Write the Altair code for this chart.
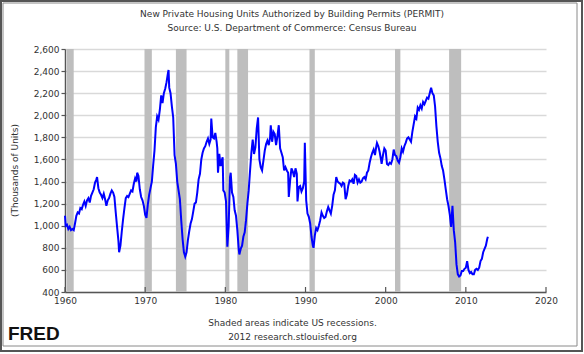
import altair as alt
import pandas as pd

# ---- data (thousands of units, SAAR) ----
dates = [
 "1960-01","1960-02","1960-04","1960-06","1960-08","1960-10","1960-12",
 "1961-02","1961-04","1961-06","1961-08","1961-10","1961-12",
 "1962-02","1962-04","1962-06","1962-08","1962-10","1962-12",
 "1963-02","1963-04","1963-06","1963-08","1963-10","1963-12",
 "1964-01","1964-03","1964-05","1964-07","1964-09","1964-11",
 "1965-01","1965-03","1965-05","1965-07","1965-09","1965-11",
 "1966-01","1966-03","1966-05","1966-07","1966-09","1966-10","1966-12",
 "1967-02","1967-04","1967-06","1967-08","1967-10","1967-12",
 "1968-02","1968-04","1968-06","1968-08","1968-10","1968-12",
 "1969-01","1969-03","1969-05","1969-07","1969-09","1969-11",
 "1970-01","1970-03","1970-05","1970-07","1970-09","1970-11",
 "1971-01","1971-03","1971-05","1971-07","1971-09","1971-11",
 "1972-01","1972-03","1972-05","1972-07","1972-09","1972-11","1972-12",
 "1973-01","1973-03","1973-05","1973-07","1973-09","1973-11",
 "1974-01","1974-03","1974-05","1974-07","1974-09","1974-11",
 "1975-01","1975-03","1975-05","1975-07","1975-09","1975-11",
 "1976-01","1976-03","1976-05","1976-07","1976-09","1976-11",
 "1977-01","1977-03","1977-05","1977-07","1977-09","1977-11",
 "1978-01","1978-03","1978-04","1978-06","1978-08","1978-10","1978-12",
 "1979-01","1979-02","1979-04","1979-06","1979-08","1979-09","1979-10","1979-12",
 "1980-02","1980-04","1980-06","1980-08","1980-09","1980-11",
 "1981-01","1981-03","1981-05","1981-07","1981-09","1981-10","1981-12",
 "1982-02","1982-04","1982-06","1982-08","1982-10","1982-12",
 "1983-02","1983-04","1983-06","1983-08","1983-10","1983-12",
 "1984-02","1984-04","1984-06","1984-08","1984-10","1984-12",
 "1985-02","1985-04","1985-06","1985-08","1985-09","1985-11",
 "1986-01","1986-03","1986-05","1986-07","1986-09","1986-11",
 "1987-01","1987-03","1987-05","1987-07","1987-09","1987-11","1987-12",
 "1988-02","1988-04","1988-06","1988-08","1988-10","1988-12",
 "1989-01","1989-03","1989-05","1989-07","1989-09","1989-11","1989-12",
 "1990-02","1990-04","1990-06","1990-08","1990-10","1990-12",
 "1991-01","1991-03","1991-05","1991-07","1991-09","1991-11",
 "1992-01","1992-03","1992-05","1992-07","1992-09","1992-11",
 "1993-01","1993-03","1993-05","1993-07","1993-09","1993-11",
 "1994-01","1994-03","1994-05","1994-07","1994-09","1994-11",
 "1995-01","1995-03","1995-05","1995-07","1995-09","1995-11",
 "1996-01","1996-03","1996-05","1996-07","1996-09","1996-11",
 "1997-01","1997-03","1997-05","1997-07","1997-09","1997-11",
 "1998-01","1998-03","1998-05","1998-07","1998-09","1998-11","1998-12",
 "1999-02","1999-04","1999-06","1999-07","1999-09","1999-11",
 "2000-01","2000-03","2000-05","2000-07","2000-09","2000-11",
 "2001-01","2001-03","2001-05","2001-07","2001-09","2001-11",
 "2002-01","2002-03","2002-05","2002-07","2002-09","2002-11",
 "2003-01","2003-03","2003-05","2003-07","2003-09","2003-11",
 "2004-01","2004-03","2004-05","2004-07","2004-09","2004-11",
 "2005-01","2005-03","2005-05","2005-07","2005-09","2005-11",
 "2006-01","2006-03","2006-05","2006-07","2006-09","2006-11",
 "2007-01","2007-03","2007-05","2007-07","2007-09","2007-11",
 "2008-01","2008-03","2008-05","2008-07","2008-09","2008-11",
 "2009-01","2009-03","2009-05","2009-07","2009-09","2009-11",
 "2010-01","2010-03","2010-05","2010-07","2010-09","2010-11",
 "2011-01","2011-03","2011-05","2011-07","2011-09","2011-11",
 "2012-01","2012-03","2012-05","2012-07","2012-09","2012-10",
]
permits = [
 1090,1000,1010,970,990,960,970,
 960,1020,1090,1120,1110,1160,
 1150,1190,1220,1180,1230,1250,
 1210,1270,1300,1330,1390,1420,
 1440,1340,1300,1280,1250,1290,
 1240,1180,1230,1250,1290,1320,
 1300,1260,1120,990,860,760,820,
 950,1060,1160,1250,1270,1260,
 1290,1320,1310,1380,1430,1400,
 1480,1450,1330,1260,1230,1180,
 1100,1070,1190,1280,1340,1400,
 1550,1680,1890,1990,1960,2050,
 2180,2110,2200,2240,2300,2380,2410,
 2250,2200,2080,1980,1640,1560,
 1400,1320,1240,1050,880,760,
 720,760,870,950,1020,1060,
 1130,1200,1210,1300,1420,1470,
 1600,1660,1700,1720,1760,1790,
 1740,1780,1970,1800,1790,1840,1760,
 1700,1480,1650,1540,1600,1620,1320,1300,
 1220,810,1000,1440,1480,1300,
 1260,1140,1090,960,790,740,790,
 820,900,940,1050,1200,1320,
 1500,1660,1780,1650,1710,1880,
 1980,1600,1530,1500,1590,1680,
 1740,1770,1730,1800,1910,1760,
 1850,1830,1730,1810,1910,1700,
 1660,1620,1500,1530,1500,1480,1260,
 1410,1520,1490,1440,1520,1470,
 1220,1350,1360,1310,1340,1400,1750,
 1230,1110,1080,1020,900,820,
 800,910,980,960,1000,1050,
 1120,1090,1070,1080,1130,1170,
 1140,1110,1180,1280,1320,1440,
 1400,1390,1380,1360,1390,1380,
 1240,1280,1360,1410,1400,1420,
 1380,1460,1450,1390,1420,1390,
 1400,1430,1440,1420,1480,1500,
 1570,1620,1660,1690,1640,1720,1750,
 1720,1670,1600,1560,1640,1700,
 1680,1560,1550,1570,1560,1600,
 1690,1640,1630,1590,1570,1620,
 1700,1670,1720,1750,1790,1800,
 1780,1760,1850,1920,1990,1970,
 2070,2050,2090,2060,2120,2100,
 2130,2160,2150,2200,2250,2200,
 2180,2080,1900,1760,1660,1610,
 1540,1500,1420,1330,1240,1180,
 1100,990,1180,960,850,650,
 560,540,550,590,590,610,
 620,680,600,570,580,560,
 560,600,610,600,620,680,
 700,760,790,820,880,900,
]

rec_start = ["1960-04-01","1969-12-01","1973-11-01","1980-01-01","1981-07-01",
             "1990-07-01","2001-03-01","2007-12-01"]
rec_end   = ["1961-02-01","1970-11-01","1975-03-01","1980-07-01","1982-11-01",
             "1991-03-01","2001-11-01","2009-06-01"]

decades = ["1960-01-01","1970-01-01","1980-01-01","1990-01-01",
           "2000-01-01","2010-01-01","2020-01-01"]
y_ticks = [400,600,800,1000,1200,1400,1600,1800,2000,2200,2400,2600]

title_lines = ["New Private Housing Units Authorized by Building Permits (PERMIT)",
               "Source: U.S. Department of Commerce: Census Bureau"]
note_lines = ["Shaded areas indicate US recessions.",
              "2012 research.stlouisfed.org"]

# ---- tables ----
series = pd.DataFrame({"date": pd.to_datetime(dates), "value": permits})
rec = pd.DataFrame({"start": pd.to_datetime(rec_start), "end": pd.to_datetime(rec_end)})
dec = pd.DataFrame({"d": pd.to_datetime(decades)})
one = pd.DataFrame({"k": [0]})

FONT = "DejaVu Sans"
xscale = alt.Scale(domain=[pd.Timestamp("1960-01-01").isoformat(),
                           pd.Timestamp("2020-01-01").isoformat()])
yscale = alt.Scale(domain=[400, 2600], nice=False, zero=False)

bands = alt.Chart(rec).mark_rect(color="#bebebe").encode(
    x=alt.X("start:T", scale=xscale),
    x2="end:T",
)

line = alt.Chart(series).mark_line(color="#0000ff", strokeWidth=2).encode(
    x=alt.X("date:T", scale=xscale,
            axis=alt.Axis(values=[pd.Timestamp(d).isoformat() for d in decades],
                          format="%Y", grid=False, ticks=False,
                          domainColor="#555", domainWidth=1.5,
                          labelFont=FONT, labelFontSize=9, labelColor="#333",
                          labelPadding=4, labelFlush=False,
                          title=note_lines, titleFont=FONT, titleFontSize=9,
                          titleFontWeight="normal", titleColor="#333",
                          titleX=227, titleY=26, titleBaseline="top",
                          titleLineHeight=14)),
    y=alt.Y("value:Q", scale=yscale,
            axis=alt.Axis(values=y_ticks, format=",.0f", grid=True,
                          gridColor="#d9d9d9", gridWidth=1.5,
                          domainColor="#555", domainWidth=1.5,
                          tickColor="#555", tickSize=4, tickWidth=1.2,
                          labelFont=FONT, labelFontSize=9, labelColor="#333",
                          labelPadding=2,
                          title="(Thousands of Units)", titleFont=FONT,
                          titleFontSize=9, titleFontWeight="normal",
                          titleColor="#333", titleX=-51, titleY=121,
                          titleBaseline="middle")),
)

xticks = alt.Chart(dec).mark_rule(color="#555", strokeWidth=1.2).encode(
    x=alt.X("d:T", scale=xscale),
    y=alt.value(238), y2=alt.value(243),
)

frame_inner = alt.Chart(one).mark_rect(filled=False, stroke="#8a8a8a", strokeWidth=1).encode(
    x=alt.value(-62), x2=alt.value(512), y=alt.value(-46), y2=alt.value(297))
frame_outer = alt.Chart(one).mark_rect(filled=False, stroke="#555", strokeWidth=2).encode(
    x=alt.value(-64), x2=alt.value(517), y=alt.value(-48), y2=alt.value(302))

title1 = alt.Chart(one).mark_text(text=title_lines[0], font=FONT, fontSize=9,
                                  color="#333", align="center", baseline="middle").encode(
    x=alt.value(227), y=alt.value(-35))
title2 = alt.Chart(one).mark_text(text=title_lines[1], font=FONT, fontSize=9,
                                  color="#333", align="center", baseline="middle").encode(
    x=alt.value(227), y=alt.value(-21))

fred = alt.Chart(one).mark_text(text="FRED", font="Liberation Sans", fontSize=19,
                                fontWeight="bold", color="#111", align="left",
                                baseline="alphabetic").encode(
    x=alt.value(-57), y=alt.value(291))

chart = alt.layer(bands, line, xticks, frame_inner, frame_outer,
                  title1, title2, fred).properties(
    width=481, height=243,
    autosize="none",
    padding={"left": 65, "top": 49, "right": 38, "bottom": 62},
    background="white",
).configure_view(stroke=None)

chart.save("out.html", embed_options={"renderer": "svg", "actions": False})
